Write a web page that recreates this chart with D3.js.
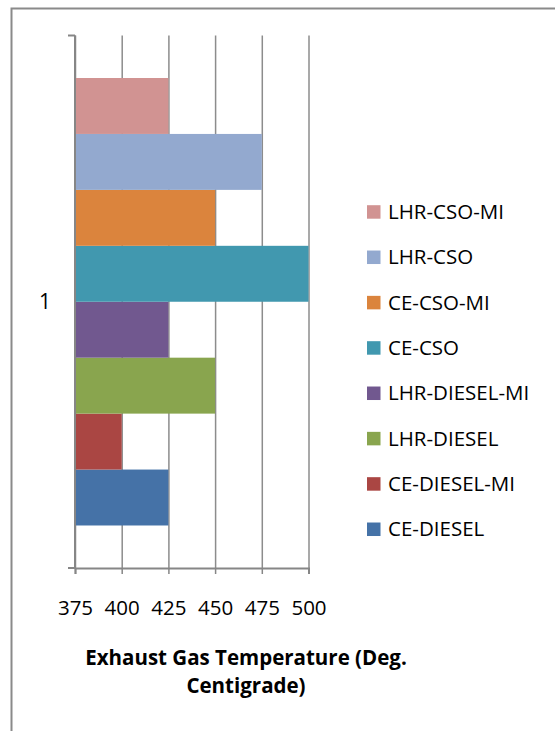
<!DOCTYPE html>
<html>
<head>
<meta charset="utf-8">
<script src="https://cdn.jsdelivr.net/npm/d3@7"></script>
<style>
  body { margin: 0; background: #fff; }
  text { font-family: "Open Sans", Lato, sans-serif; fill: #000; }
</style>
</head>
<body>
<script>
var svg_width  = 555;
var svg_height = 731;

// data
var categories = ["1"];
var series = ["CE-DIESEL", "CE-DIESEL-MI", "LHR-DIESEL", "LHR-DIESEL-MI",
              "CE-CSO", "CE-CSO-MI", "LHR-CSO", "LHR-CSO-MI"];
var values = [425, 400, 450, 425, 500, 450, 475, 425];
var colors = ["#4572A7", "#AA4643", "#89A54E", "#71588F",
              "#4198AF", "#DB843D", "#93A9CF", "#D19392"];
var xTicks = [375, 400, 425, 450, 475, 500];
var titleLines = ["Exhaust Gas Temperature (Deg.", "Centigrade)"];

var plot = {left: 75, right: 308.5, top: 35.5, bottom: 568};

var svg = d3.select('body').append('svg')
            .attr('width', svg_width)
            .attr('height', svg_height);

svg.append("rect")
   .attr("width", svg_width).attr("height", svg_height)
   .attr("fill", "#fff");

// outer frame (only left and top edges are visible)
svg.append("path")
   .attr("d", "M11.5," + svg_height + "V8.5H" + svg_width)
   .attr("fill", "none")
   .attr("stroke", "#8a8a8a")
   .attr("stroke-width", 2);

var x = d3.scaleLinear()
          .domain([375, 500])
          .range([plot.left, plot.right]);

var y = d3.scaleBand()
          .domain(categories)
          .range([plot.top, plot.bottom])
          .paddingOuter(0.095);

// series inside the category, first series at the bottom
var ySeries = d3.scaleBand()
                .domain(series.slice().reverse())
                .range([0, y.bandwidth()]);

// gridlines
svg.append("g")
   .attr("class", "grid")
   .attr("transform", "translate(0," + plot.bottom + ")")
   .call(d3.axisBottom(x).tickValues(xTicks).tickSize(-(plot.bottom - plot.top)).tickFormat(""))
   .call(g => g.select(".domain").remove())
   .selectAll("line")
   .attr("stroke", "#8c8c8c")
   .attr("stroke-width", 1.5);

// bars
svg.append("g")
   .selectAll("rect")
   .data(series)
   .enter().append("rect")
   .attr("x", x(375))
   .attr("y", d => y("1") + ySeries(d))
   .attr("width", (d, i) => x(values[i]) - x(375))
   .attr("height", ySeries.bandwidth())
   .attr("fill", (d, i) => colors[i]);

// x axis
var xAxis = svg.append("g")
   .attr("transform", "translate(0," + plot.bottom + ")")
   .call(d3.axisBottom(x).tickValues(xTicks).tickSize(6).tickPadding(26));
xAxis.select(".domain").attr("stroke", "#868686").attr("stroke-width", 2);
xAxis.selectAll(".tick line").attr("stroke", "#868686").attr("stroke-width", 1.5);
xAxis.selectAll(".tick text")
     .attr("font-size", 20.5)
     .style("font-family", "'Open Sans', sans-serif");

// y axis: line, ticks at the category edges, label at the middle
svg.append("line")
   .attr("x1", plot.left).attr("x2", plot.left)
   .attr("y1", plot.top).attr("y2", plot.bottom)
   .attr("stroke", "#868686").attr("stroke-width", 2);

svg.append("g")
   .selectAll("line")
   .data(y.range())
   .enter().append("line")
   .attr("x1", plot.left - 7).attr("x2", plot.left)
   .attr("y1", d => d).attr("y2", d => d)
   .attr("stroke", "#868686").attr("stroke-width", 2);

svg.append("g")
   .selectAll("text")
   .data(categories)
   .enter().append("text")
   .attr("x", 45)
   .attr("y", d => y(d) + y.bandwidth() / 2)
   .attr("dy", "0.35em")
   .attr("text-anchor", "middle")
   .attr("font-size", 21)
   .text(d => d);

// legend, listed top to bottom in reverse series order
var legend = svg.append("g")
                .selectAll("g")
                .data(series.slice().reverse())
                .enter().append("g")
                .attr("transform", (d, i) => "translate(367," + (211.7 + i * 45.33) + ")");

legend.append("rect")
      .attr("x", 0).attr("y", -6.5)
      .attr("width", 13.5).attr("height", 13.5)
      .attr("fill", d => colors[series.indexOf(d)]);

legend.append("text")
      .attr("x", 21)
      .attr("dy", "0.36em")
      .attr("font-size", 20.5)
      .text(d => d);

// axis title
svg.append("text")
   .attr("text-anchor", "middle")
   .attr("font-size", 20.5)
   .attr("font-weight", "bold")
   .selectAll("tspan")
   .data(titleLines)
   .enter().append("tspan")
   .attr("x", 246)
   .attr("y", (d, i) => 665 + i * 28)
   .text(d => d);
</script>
</body>
</html>
